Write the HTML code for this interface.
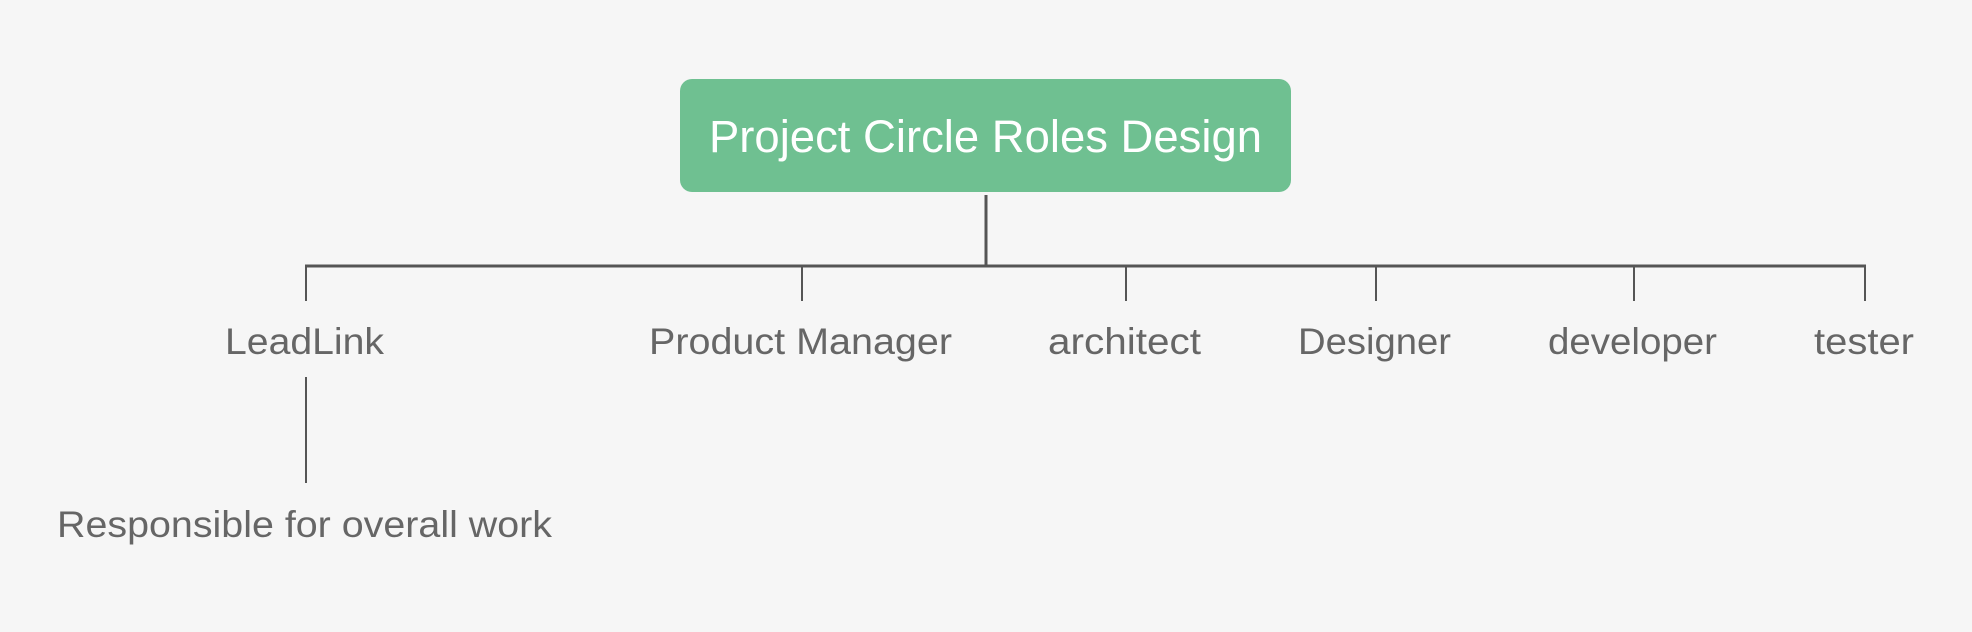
<!DOCTYPE html>
<html><head><meta charset="utf-8"><style>
html,body{margin:0;padding:0;background:#f6f6f6;}
svg{display:block;}
text{font-family:"Liberation Sans",sans-serif;}
</style></head><body>
<svg width="1972" height="632" viewBox="0 0 1972 632" xmlns="http://www.w3.org/2000/svg">
<rect width="1972" height="632" fill="#f6f6f6"/>
<rect x="680" y="79" width="611" height="113" rx="12" fill="#6fc091"/>
<text x="985.5" y="152" font-size="45" fill="#fff" text-anchor="middle" textLength="553" lengthAdjust="spacingAndGlyphs">Project Circle Roles Design</text>
<g stroke="#555" fill="none">
<line x1="986" y1="195" x2="986" y2="267" stroke-width="3"/>
<line x1="305" y1="266" x2="1866" y2="266" stroke-width="3"/>
<g stroke-width="2">
<line x1="306" y1="266" x2="306" y2="301"/>
<line x1="802" y1="266" x2="802" y2="301"/>
<line x1="1126" y1="266" x2="1126" y2="301"/>
<line x1="1376" y1="266" x2="1376" y2="301"/>
<line x1="1634" y1="266" x2="1634" y2="301"/>
<line x1="1865" y1="266" x2="1865" y2="301"/>
<line x1="306" y1="377" x2="306" y2="483"/>
</g>
</g>
<g fill="#666" font-size="37">
<text x="225" y="354" textLength="159" lengthAdjust="spacingAndGlyphs">LeadLink</text>
<text x="649" y="354" textLength="303" lengthAdjust="spacingAndGlyphs">Product Manager</text>
<text x="1048" y="354" textLength="153" lengthAdjust="spacingAndGlyphs">architect</text>
<text x="1298" y="354" textLength="153" lengthAdjust="spacingAndGlyphs">Designer</text>
<text x="1548" y="354" textLength="169" lengthAdjust="spacingAndGlyphs">developer</text>
<text x="1814" y="354" textLength="100" lengthAdjust="spacingAndGlyphs">tester</text>
<text x="57" y="537" textLength="495" lengthAdjust="spacingAndGlyphs">Responsible for overall work</text>
</g>
</svg>
</body></html>
